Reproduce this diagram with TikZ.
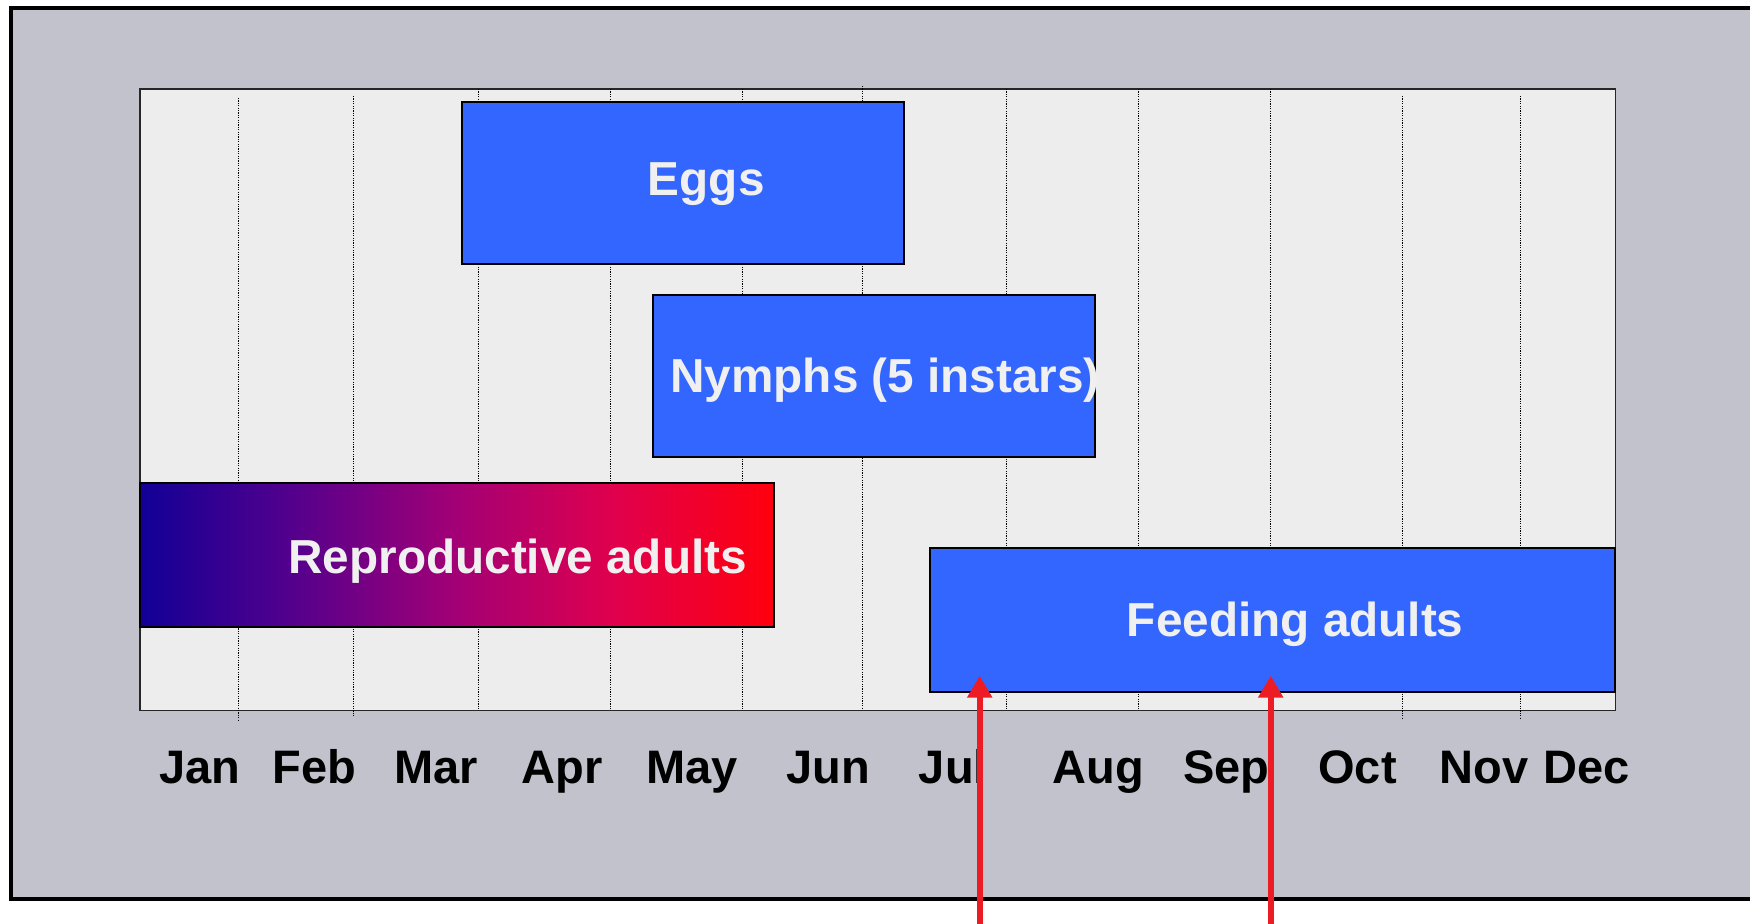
\documentclass[tikz,border=0pt]{standalone}
\usepackage{fontspec}
\setmainfont{Liberation Sans}
\usetikzlibrary{arrows.meta,fit}
\definecolor{framebg}{RGB}{194,194,204}
\definecolor{plotbg}{RGB}{237,237,237}
\definecolor{barblue}{RGB}{51,102,255}
\definecolor{txtwhite}{RGB}{240,240,240}
\definecolor{arrowred}{RGB}{237,28,36}
\pgfdeclarehorizontalshading{reprograd}{100bp}{%
 rgb(0bp)=(0.07,0,0.59); rgb(25bp)=(0.07,0,0.59);
 rgb(37.5bp)=(0.34,0,0.55); rgb(50bp)=(0.64,0,0.46);
 rgb(62.5bp)=(0.88,0,0.30); rgb(75bp)=(1,0,0.05); rgb(100bp)=(1,0,0.05)}
\tikzset{
 outerframe/.style={draw=black, line width=2pt, fill=framebg, inner sep=0pt, rectangle},
 plotarea/.style={draw=black!85, line width=0.7pt, fill=plotbg, inner sep=0pt, rectangle},
 gridline/.style={line width=0.5pt, dash pattern=on 0.6pt off 0.6pt},
 bar/.style={draw=black, line width=1pt, fill=barblue, inner sep=0pt, rectangle},
 gradbar/.style={draw=black, line width=1pt, shading=reprograd, inner sep=0pt, rectangle},
 bartext/.style={text=txtwhite, font=\bfseries\fontsize{23.85}{28}\selectfont, inner sep=0pt, anchor=base west},
 month/.style={text=black, font=\bfseries\fontsize{23.5}{28}\selectfont, inner sep=0pt, anchor=base west},
 pointer/.style={draw=arrowred, line width=3pt, -{Triangle[length=11pt,width=12pt]}},
}
\begin{document}
\begin{tikzpicture}[x=0.5pt,y=-0.5pt]
\useasboundingbox (0,0) rectangle (1750,924);
\fill[white] (0,0) rectangle (1750,924);
% outer frame
\node[outerframe, fit={(11,8)(1790,899)}] (frame) {};
% plot area
\node[plotarea, fit={(140,89)(1615.5,710.5)}] (plot) {};
% grid lines
\draw[gridline] (238,98) -- (238,721);
\draw[gridline] (353,96) -- (353,717);
\draw[gridline] (478,89) -- (478,710);
\draw[gridline] (610,89) -- (610,710);
\draw[gridline] (742,89) -- (742,710);
\draw[gridline] (862,86) -- (862,710);
\draw[gridline] (1006,89) -- (1006,710);
\draw[gridline] (1138,89) -- (1138,710);
\draw[gridline] (1270,89) -- (1270,710);
\draw[gridline] (1402,96) -- (1402,718);
\draw[gridline] (1520,96) -- (1520,718);
% bars
\node[bar, fit={(461.5,102.5)(903.6,264)}] (eggs) {};
\node[bar, fit={(652.7,295.3)(1095,456.7)}] (nymphs) {};
\node[gradbar, fit={(140.3,483.5)(773.7,626.7)}] (repro) {};
\node[bar, fit={(930.4,548.3)(1615,692.3)}] (feeding) {};
% bar texts
\node[bartext] (eggsT) at (647.5,196) {Eggs};
\node[bartext] (nymphsT) at (670,393) {Nymphs (5 instars)};
\node[bartext] (reproT) at (288,574) {Reproductive adults};
\node[bartext] (feedingT) at (1126.5,636.7) {Feeding adults};
% months
\node[month] (jan) at (159,783) {Jan};
\node[month] (feb) at (272.5,783) {Feb};
\node[month] (mar) at (394,783) {Mar};
\node[month] (apr) at (521,783) {Apr};
\node[month] (may) at (646,783) {May};
\node[month] (jun) at (786,783) {Jun};
\node[month] (jul) at (918.5,783) {Jul};
\node[month] (aug) at (1052,783) {Aug};
\node[month] (sep) at (1183,783) {Sep};
\node[month] (oct) at (1318,783) {Oct};
\node[month] (nov) at (1439,783) {Nov};
\node[month] (dec) at (1543,783) {Dec};
% arrows
\coordinate (a1s) at (979.7,930);
\coordinate (a1e) at (979.7,675.7);
\coordinate (a2s) at (1270.7,930);
\coordinate (a2e) at (1270.7,675.7);
\draw[pointer] (a1s) -- (a1e);
\draw[pointer] (a2s) -- (a2e);
\end{tikzpicture}
\end{document}
